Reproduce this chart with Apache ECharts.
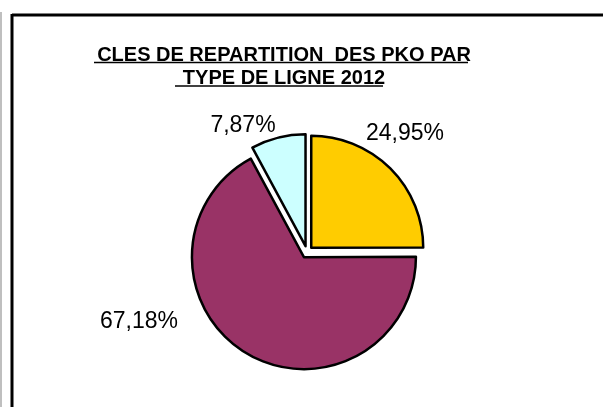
<!DOCTYPE html>
<html lang="fr">
<head>
    <meta charset="UTF-8">
    <title>Cles de repartition des PKO</title>
    <style>
        html,body{
            width: 100%;
            height: 100%;
            margin: 0;
            padding: 0;
            background: #fff;
        }
        #chart{
            width: 603px;
            height: 407px;
        }
    </style>
</head>
<body>
    <div id="chart"></div>
    <script src="https://cdn.jsdelivr.net/npm/echarts@6/dist/echarts.min.js"></script>
    <script>
        // donnees
        var categories = ['Type 1', 'Type 2', 'Type 3'];
        var values = [24.95, 67.18, 7.87];
        var colors = ['#FFCC00', '#993366', '#CCFFFF'];
        var titleLines = ['CLES DE REPARTITION  DES PKO PAR', 'TYPE DE LIGNE 2012'];

        // placement des etiquettes (comme dans Excel)
        var labelPos = [[405, 134], [139, 322], [243, 126]];

        var myChart = echarts.init(document.getElementById('chart'));

        var pieData = categories.map(function (name, i) {
            return { name: name, value: values[i] };
        });

        var option = {
            backgroundColor: '#fff',
            animation: false,
            title: {
                text: titleLines.join('\n'),
                left: 279,
                top: 39,
                textAlign: 'center',
                textStyle: {
                    fontFamily: 'Liberation Sans',
                    fontWeight: 'bold',
                    fontSize: 20,
                    lineHeight: 23,
                    color: '#000'
                }
            },
            graphic: [
                // cadre
                { type: 'line', shape: { x1: 12, y1: 15, x2: 610, y2: 15 }, style: { stroke: '#000', lineWidth: 3 } },
                { type: 'line', shape: { x1: 12, y1: 14, x2: 12, y2: 420 }, style: { stroke: '#000', lineWidth: 3 } },
                { type: 'line', shape: { x1: 1, y1: 12, x2: 1, y2: 420 }, style: { stroke: '#aaa', lineWidth: 1.5 } },
                // soulignement du titre
                { type: 'line', shape: { x1: 94, y1: 62.5, x2: 468, y2: 62.5 }, style: { stroke: '#000', lineWidth: 1.5 } },
                { type: 'line', shape: { x1: 175, y1: 86, x2: 383, y2: 86 }, style: { stroke: '#000', lineWidth: 1.5 } }
            ],
            series: [{
                // secteurs eclates
                type: 'pie',
                center: [307, 252],
                radius: 112,
                startAngle: 90,
                clockwise: true,
                selectedMode: 'multiple',
                selectedOffset: 6,
                emphasis: { disabled: true },
                itemStyle: {
                    borderColor: '#000',
                    borderWidth: 2.5
                },
                label: { show: false },
                labelLine: { show: false },
                data: pieData.map(function (d, i) {
                    return {
                        name: d.name,
                        value: d.value,
                        selected: true,
                        itemStyle: { color: colors[i] }
                    };
                })
            }, {
                // etiquettes seulement
                type: 'pie',
                center: [307, 252],
                radius: 112,
                startAngle: 90,
                clockwise: true,
                silent: true,
                emphasis: { disabled: true },
                itemStyle: { color: 'rgba(0,0,0,0)', borderWidth: 0 },
                label: {
                    show: true,
                    position: 'outside',
                    fontFamily: 'Liberation Sans',
                    fontSize: 23,
                    color: '#000',
                    formatter: function (p) {
                        return p.value.toFixed(2).replace('.', ',') + '%';
                    }
                },
                labelLine: { show: false },
                labelLayout: function (params) {
                    var pos = labelPos[params.dataIndex];
                    return { x: pos[0], y: pos[1], align: 'center', verticalAlign: 'middle' };
                },
                data: pieData
            }]
        };

        myChart.setOption(option);
    </script>
</body>
</html>
